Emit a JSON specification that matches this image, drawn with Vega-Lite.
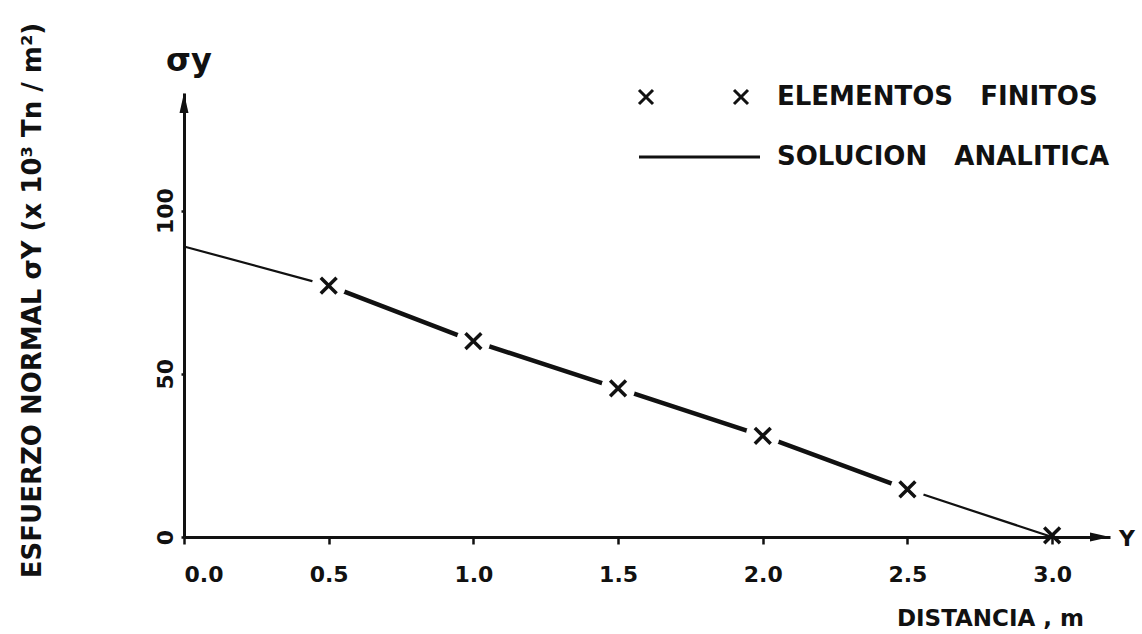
{
  "$schema": "https://vega.github.io/schema/vega-lite/v6.json",
  "width": 926,
  "height": 444,
  "autosize": "none",
  "padding": {"left": 184, "top": 93, "right": 32, "bottom": 97},
  "background": "white",
  "config": {
    "view": {"stroke": null},
    "font": "DejaVu Sans",
    "axis": {
      "grid": false,
      "domainColor": "#111",
      "domainWidth": 3,
      "tickColor": "#111",
      "tickWidth": 2.5,
      "labelColor": "#111",
      "labelFont": "DejaVu Sans",
      "labelFontWeight": "bold",
      "labelFontSize": 22,
      "titleColor": "#111",
      "titleFont": "DejaVu Sans",
      "titleFontWeight": "bold",
      "titleFontSize": 22
    },
    "legend": {
      "orient": "none",
      "legendX": 442,
      "legendY": -9,
      "symbolSize": 400,
      "symbolStrokeWidth": 3,
      "symbolStrokeColor": "#111",
      "symbolFillColor": "transparent",
      "labelOffset": 125,
      "rowPadding": 34,
      "labelFont": "DejaVu Sans",
      "labelFontWeight": "bold",
      "labelFontSize": 26,
      "labelColor": "#111",
      "labelLimit": 0
    }
  },
  "datasets": {
    "analitica": [
      {"Y": 0.0, "sigma": 89},
      {"Y": 0.5, "sigma": 77},
      {"Y": 1.0, "sigma": 60},
      {"Y": 1.5, "sigma": 45.5},
      {"Y": 2.0, "sigma": 31},
      {"Y": 2.5, "sigma": 14.6},
      {"Y": 3.0, "sigma": 0}
    ],
    "finitos": [
      {"Y": 0.5, "sigma": 77, "serie": "ELEMENTOS FINITOS"},
      {"Y": 1.0, "sigma": 60, "serie": "ELEMENTOS FINITOS"},
      {"Y": 1.5, "sigma": 45.5, "serie": "ELEMENTOS FINITOS"},
      {"Y": 2.0, "sigma": 31, "serie": "ELEMENTOS FINITOS"},
      {"Y": 2.5, "sigma": 14.6, "serie": "ELEMENTOS FINITOS"},
      {"Y": 3.0, "sigma": 0.5, "serie": "ELEMENTOS FINITOS"}
    ],
    "ancla": [{}]
  },
  "layer": [
    {
      "data": {"name": "analitica"},
      "mark": {"type": "line", "color": "#111", "strokeWidth": 2.2},
      "encoding": {
        "x": {
          "field": "Y", "type": "quantitative",
          "scale": {"domain": [0, 3.2], "nice": false},
          "axis": {
            "values": [0, 0.5, 1, 1.5, 2, 2.5, 3],
            "format": ".1f",
            "tickSize": 7,
            "labelPadding": 20,
            "title": "DISTANCIA , m",
            "titleFontSize": 23,
            "titleX": 806,
            "titleY": 81,
            "titleAlign": "center",
            "titleBaseline": "middle"
          }
        },
        "y": {
          "field": "sigma", "type": "quantitative",
          "scale": {"domain": [0, 136], "nice": false},
          "axis": {
            "values": [0, 50, 100],
            "labelAngle": 270,
            "tickSize": 3,
            "labelPadding": 4,
            "title": "ESFUERZO  NORMAL  σY  (x 10³ Tn / m²)",
            "titleFontSize": 26,
            "titleAngle": 270,
            "titleX": -152,
            "titleY": 207,
            "titleAlign": "center",
            "titleBaseline": "middle"
          }
        }
      }
    },
    {
      "data": {"name": "analitica"},
      "transform": [{"filter": "datum.Y >= 0.5 && datum.Y <= 2.5"}],
      "mark": {"type": "line", "color": "#111", "strokeWidth": 4.5},
      "encoding": {
        "x": {"field": "Y", "type": "quantitative"},
        "y": {"field": "sigma", "type": "quantitative"}
      }
    },
    {
      "data": {"name": "finitos"},
      "transform": [{"filter": "datum.Y <= 2.5"}],
      "mark": {"type": "point", "shape": "circle", "filled": true, "color": "white", "opacity": 1, "size": 1150},
      "encoding": {
        "x": {"field": "Y", "type": "quantitative"},
        "y": {"field": "sigma", "type": "quantitative"}
      }
    },
    {
      "data": {"name": "finitos"},
      "mark": {
        "type": "point",
        "shape": "M-1,-1L1,1M-1,1L1,-1",
        "filled": false,
        "color": "#111",
        "strokeWidth": 3.5,
        "size": 250,
        "opacity": 1
      },
      "encoding": {
        "x": {"field": "Y", "type": "quantitative"},
        "y": {"field": "sigma", "type": "quantitative"}
      }
    },
    {
      "data": {"name": "finitos"},
      "transform": [{"filter": "false"}],
      "mark": {"type": "point", "filled": false, "color": "#111", "opacity": 1},
      "encoding": {
        "x": {"field": "Y", "type": "quantitative"},
        "y": {"field": "sigma", "type": "quantitative"},
        "shape": {
          "field": "serie",
          "type": "nominal",
          "scale": {
            "domain": ["ELEMENTOS FINITOS", "SOLUCION ANALITICA"],
            "range": [
              "M0,-0.7L1.4,0.7M0,0.7L1.4,-0.7M9.5,-0.7L10.9,0.7M9.5,0.7L10.9,-0.7",
              "M0,0L12.1,0"
            ]
          },
          "legend": {"title": null, "labelExpr": "replace(datum.label, ' ', '\u00a0\u00a0\u00a0')"}
        }
      }
    },
    {
      "data": {"name": "ancla"},
      "mark": {"type": "point", "shape": "M0,0L-2,-0.45L-2,0.45Z", "filled": true, "color": "#111", "size": 400, "opacity": 1},
      "encoding": {"x": {"datum": 3.2}, "y": {"datum": 0}}
    },
    {
      "data": {"name": "ancla"},
      "mark": {"type": "point", "shape": "M0,0L-0.45,2L0.45,2Z", "filled": true, "color": "#111", "size": 400, "opacity": 1},
      "encoding": {"x": {"datum": 0}, "y": {"datum": 136}}
    },
    {
      "data": {"name": "ancla"},
      "mark": {"type": "text", "text": "Y", "dx": 17, "dy": 2, "align": "center", "baseline": "middle", "font": "DejaVu Sans", "fontWeight": "bold", "fontSize": 22, "color": "#111"},
      "encoding": {"x": {"datum": 3.2}, "y": {"datum": 0}}
    },
    {
      "data": {"name": "ancla"},
      "mark": {"type": "text", "text": "σy", "dx": -18, "dy": -32, "align": "left", "baseline": "middle", "font": "DejaVu Sans", "fontWeight": "bold", "fontSize": 32, "color": "#111"},
      "encoding": {"x": {"datum": 0}, "y": {"datum": 136}}
    }
  ]
}
